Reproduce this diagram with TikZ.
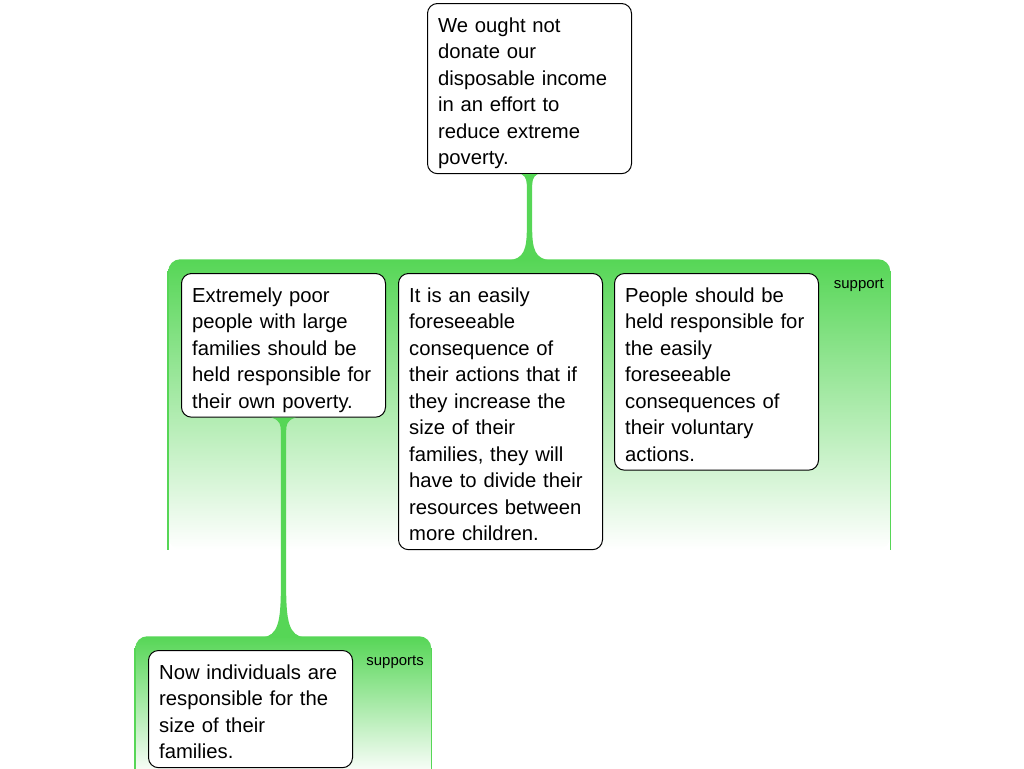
\documentclass[tikz,border=0pt]{standalone}
\usepackage{fontspec}
\setmainfont{Liberation Sans}
\usetikzlibrary{calc}
\definecolor{grp}{RGB}{86,214,86}
\newcommand{\firstln}{\rule{0pt}{21.5pt}}
\newcommand{\lastln}{\rule[-6.75pt]{0pt}{6.75pt}}
% tapered green stem from a claim down to a group
\newcommand{\stem}[4]{%
  \fill[grp] let \p1=(#1.south), \p2=(#2.north) in
    (\x1-#3,\y1) .. controls (\x1-2pt,\y1-2pt) and (\x1-2pt,\y1-6pt) .. (\x1-2pt,\y1-11pt)
    -- (\x1-2pt,\y2+#4) .. controls (\x1-2pt,\y2+0.3*#4) and (\x1-4pt,\y2) .. (\x1-16pt,\y2-1pt)
    -- (\x1+16pt,\y2-1pt) .. controls (\x1+4pt,\y2) and (\x1+2pt,\y2+0.3*#4) .. (\x1+2pt,\y2+#4)
    -- (\x1+2pt,\y1-11pt) .. controls (\x1+2pt,\y1-6pt) and (\x1+2pt,\y1-2pt) .. (\x1+#3,\y1) -- cycle;}
\tikzset{
  claim/.style={draw=black, fill=white, rounded corners=7.5pt, line width=0.75pt,
    anchor=north west, text width=137pt, inner xsep=8pt, inner ysep=0pt, align=left,
    font=\fontsize{15.2pt}{19.875pt}\selectfont},
  group/.style={anchor=north west, rounded corners=9pt, top color=grp, bottom color=white,
    inner sep=0pt},
  grpedge/.style={draw=grp, line width=0.9pt},
  rel/.style={font=\fontsize{11.2pt}{13pt}\selectfont, anchor=base east, inner sep=0pt}
}
\begin{document}
\begin{tikzpicture}[x=0.75pt, y=-0.75pt]
	\useasboundingbox (0,0) rectangle (1024,768);
	\clip (0,0) rectangle (1024,768);

	% groups
	\node[group, minimum width=541.5pt, minimum height=217.5pt] (grp1) at (168,259) {};
	\draw[grpedge] ([yshift=-9pt]grp1.north west) -- (grp1.south west);
	\draw[grpedge] ([yshift=-9pt]grp1.north east) -- (grp1.south east);
	\node[rel] (lab1) at (884,288) {support};

	\node[group, minimum width=222pt, minimum height=105pt] (grp2) at (135,636) {};
	\draw[grpedge] ([yshift=-9pt]grp2.north west) -- (grp2.south west);
	\draw[grpedge] ([yshift=-9pt]grp2.north east) -- (grp2.south east);
	\node[rel] (lab2) at (424,665) {supports};

	% claims
	\node[claim] (top) at (427,3) {\firstln We ought not\\donate our\\disposable income\\in an effort to\\reduce extreme\\poverty.\lastln};
	\node[claim] (poor) at (181,273) {\firstln Extremely poor\\people with large\\families should be\\held responsible for\\their own poverty.\lastln};
	\node[claim] (easy) at (398,273) {\firstln It is an easily\\foreseeable\\consequence of\\their actions that if\\they increase the\\size of their\\families, they will\\have to divide their\\resources between\\more children.\lastln};
	\node[claim] (resp) at (614,273) {\firstln People should be\\held responsible for\\the easily\\foreseeable\\consequences of\\their voluntary\\actions.\lastln};
	\node[claim] (size) at (148,650) {\firstln Now individuals are\\responsible for the\\size of their\\families.\lastln};

	% stems
	\stem{top}{grp1}{6pt}{24pt}
	\stem{poor}{grp2}{9pt}{37pt}
\end{tikzpicture}
\end{document}
